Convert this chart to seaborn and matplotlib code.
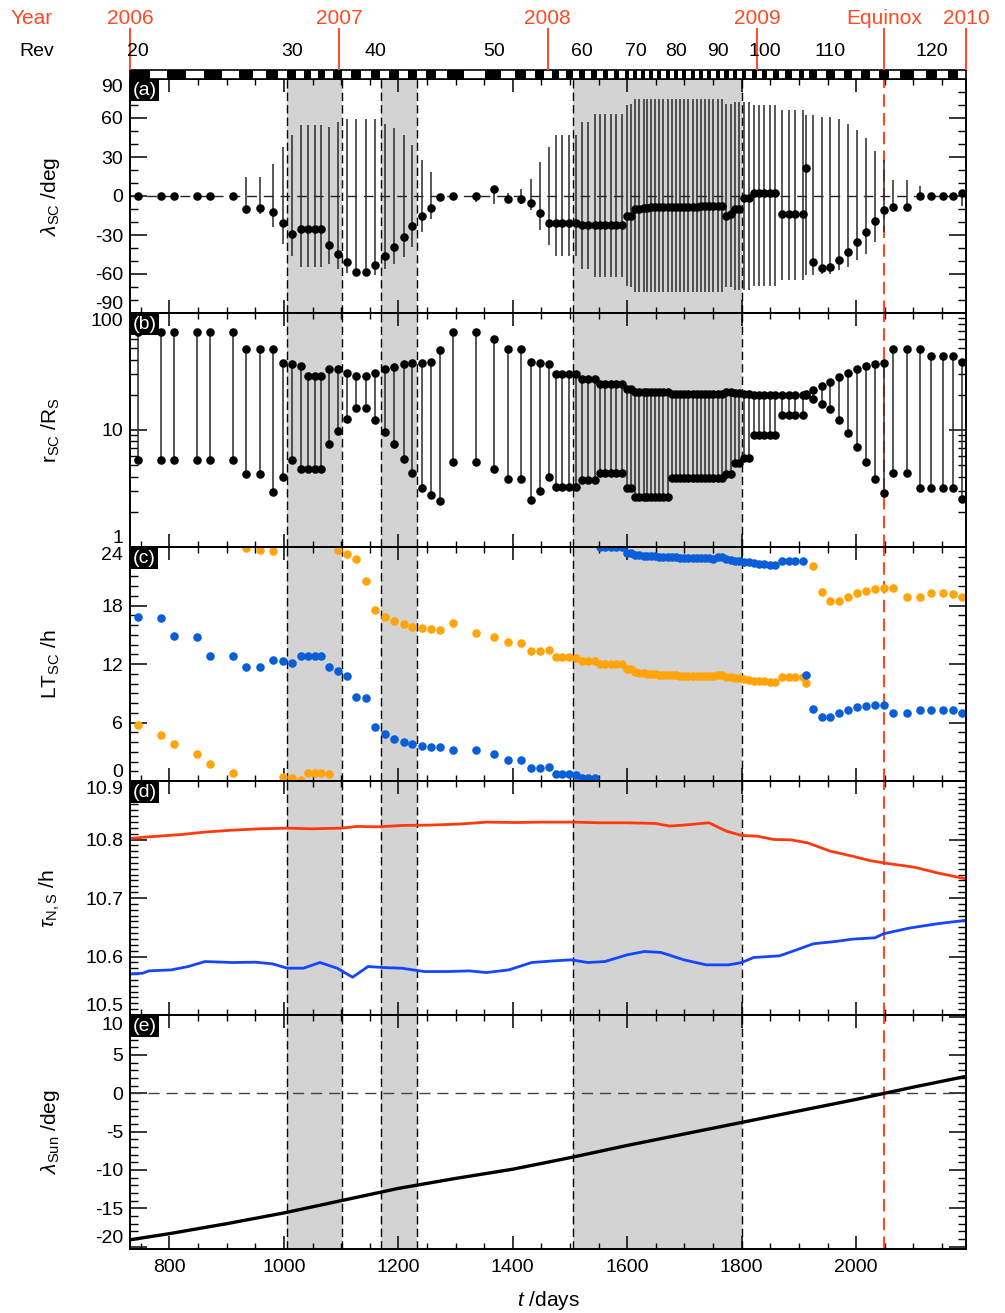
import numpy as np
import pandas as pd
import matplotlib
matplotlib.use("Agg")
import matplotlib.pyplot as plt
import matplotlib.transforms as mtrans
from matplotlib.ticker import MultipleLocator, LogLocator, NullFormatter, FixedLocator
import seaborn as sns

# ---------------- data ----------------
rev_num = list(range(20, 124))
rev_t = [745.5, 785, 808, 848, 871, 911, 933.6, 958, 981, 997.6,
         1014, 1029.6, 1042, 1054, 1065.6, 1078, 1094, 1110, 1126, 1144,
         1160, 1176, 1192.5, 1209, 1224.5, 1241, 1257, 1273, 1295.5, 1335.6,
         1367.7, 1391, 1415, 1431.6, 1447, 1463, 1474.7, 1486.5, 1499, 1510.8,
         1521.3, 1531.2, 1542.8, 1552.7, 1561.5, 1572, 1580.7, 1590.6, 1599.9, 1605.7,
         1614.4, 1621.4, 1628.4, 1634.2, 1641.8, 1648.8, 1656.3, 1663.3, 1670.9, 1677.8,
         1685.4, 1692.4, 1700, 1707, 1714.5, 1721.5, 1729.1, 1736.1, 1743.6, 1750.6,
         1758.2, 1765.1, 1772.7, 1781.4, 1789, 1796, 1803.5, 1812.3, 1822.2, 1830.9,
         1839.6, 1849.5, 1858.8, 1870.5, 1882.1, 1893.7, 1906.5, 1912.4, 1924, 1939.7,
         1954.8, 1970.5, 1985.7, 2001.4, 2017, 2032.8, 2048.6, 2064.8, 2088.8, 2112,
         2131.7, 2151, 2169.6, 2185.8]

lat_sc = [0, 0, 0, 0, 0, 0, -9.7, -9.2, -12.3, -20.8,
          -29.2, -25.6, -25.6, -25.6, -25.6, -37.4, -44.4, -50.8, -58.5, -58.5,
          -53.3, -46.4, -39.2, -31.3, -23.3, -15.1, -9.0, -0.8, 0, 0,
          5.1, -2.6, -2.6, -5.6, -13.0, -21.0, -21.0, -21.0, -21.0, -21.0,
          -22.6, -22.6, -22.6, -22.6, -22.6, -22.6, -22.6, -22.6, -15.4, -15.4,
          -9.7, -9.7, -9.5, -9.3, -8.6, -8.6, -8.5, -8.5, -8.3, -8.3,
          -8.2, -8.2, -8.2, -8.1, -8.1, -8.1, -8.0, -8.0, -8.0, -8.0,
          -7.9, -7.9, -15.4, -14.0, -9.7, -9.7, -1.5, -1.5, 2.6, 2.6,
          2.6, 2.6, 2.6, -13.6, -13.6, -13.6, -13.6, 21.5, -50.5, -55.0,
          -54.4, -49.0, -42.8, -35.4, -27.4, -19.0, -10.5, -8.2, -8.2, 0,
          0, 0, 0, 2.3]

lat_hi = [0, 0, 0, 0, 0, 0, 15, 15, 25, 37.7,
          46.7, 55, 55, 55, 55, 53, 57, 59, 59, 59,
          59, 55.6, 52.5, 46.7, 39, 28, 18.5, 0, 0, 0,
          8, 2, 5.6, 13, 26, 37.7, 46.7, 46.7, 46.7, 46.7,
          57, 57, 63, 63, 63, 63, 63, 63, 70, 71,
          75, 75, 75, 75, 75, 75, 75, 75, 75, 75,
          75, 75, 75, 75, 75, 75, 75, 75, 75, 75,
          75, 75, 71, 71, 72, 72, 72, 72, 70, 70,
          70, 70, 70, 66, 66, 66, 66, 62, 62, 61,
          61, 59, 55.6, 51, 44.6, 35, 28, 12.5, 12.5, 8,
          0, 0, 0, 2.3]

lat_lo = [0, 0, 0, 0, 0, 0, -13.6, -13.6, -24, -37,
          -46, -54.6, -54.6, -54.6, -54.6, -52, -56, -59, -61, -61,
          -61, -56, -52, -47, -39, -28, -18, -1, 0, -4.6,
          -6, -4.5, -6, -11, -26, -37.4, -46, -46, -46, -46,
          -56, -56, -62, -62, -62, -62, -62, -62, -69, -70,
          -74, -74, -74, -74, -74, -74, -74, -74, -74, -74,
          -74, -74, -74, -74, -74, -74, -74, -74, -74, -74,
          -74, -74, -70, -70, -72, -72, -72.5, -72.5, -69, -69,
          -69, -69, -69, -65, -65, -65, -65, -61, -61, -60,
          -60, -57, -54.6, -49.5, -44.4, -35.4, -28, -12.3, -11, 0,
          0, 0, 0, -8]

r_hi = [69, 69, 69, 69, 69, 69, 49, 49, 49, 37.7,
        36.9, 35.2, 29, 29, 29, 33, 33, 30.7, 28.8, 28.8,
        30.7, 33, 34.5, 36.5, 37.4, 37.7, 38.1, 48, 69, 69,
        59.6, 49.6, 49.6, 38, 37.7, 36.5, 30.3, 30.3, 30.3, 30.3,
        27.1, 27.1, 27.1, 24.6, 24.6, 24.6, 24.6, 24.6, 22.6, 22.6,
        21.1, 21.1, 21.1, 21.1, 21.1, 21.1, 21.1, 21.1, 21.1, 20.5,
        20.5, 20.5, 20.5, 20.5, 20.5, 20.5, 20.5, 20.5, 20.5, 20.5,
        20.5, 20.5, 21, 21, 20.7, 20.7, 20.4, 20.4, 19.8, 19.8,
        19.8, 19.8, 19.8, 19.8, 19.8, 19.8, 19.8, 20.4, 21.8, 23.6,
        25.7, 28.4, 30.9, 33.4, 35.2, 36.4, 37.4, 49, 49, 49,
        42.7, 42.7, 42.7, 38.2]

r_lo = [5.5, 5.5, 5.5, 5.5, 5.5, 5.5, 4.18, 4.18, 2.95, 3.96,
        5.5, 4.64, 4.64, 4.64, 4.64, 7.6, 9.8, 12.5, 15.5, 15.5,
        12.1, 9.7, 7.55, 5.7, 4.28, 3.22, 2.77, 2.46, 5.34, 5.34,
        4.68, 3.79, 3.79, 2.54, 3.01, 3.96, 3.26, 3.26, 3.26, 3.26,
        3.72, 3.72, 3.72, 4.3, 4.3, 4.3, 4.3, 4.3, 3.22, 3.22,
        2.67, 2.67, 2.67, 2.67, 2.67, 2.67, 2.67, 2.67, 2.67, 3.92,
        3.92, 3.92, 3.92, 3.92, 3.92, 3.92, 3.92, 3.92, 3.92, 3.92,
        3.92, 3.92, 4.24, 4.24, 5.2, 5.2, 5.75, 5.75, 9.06, 9.06,
        9.06, 9.06, 9.06, 13.5, 13.5, 13.5, 13.5, 19.8, 18.5, 16.8,
        15, 12.1, 9.5, 7.2, 5.3, 3.85, 2.92, 4.27, 4.27, 3.19,
        3.19, 3.19, 3.19, 2.59]

lt_blue = [16.8, 16.7, 14.84, 14.77, 12.85, 12.8, 11.73, 11.67, 12.44, 12.3,
           12.1, 12.85, 12.85, 12.85, 12.8, 11.7, 11.31, 10.8, 8.58, 8.5,
           5.5, 4.82, 4.34, 4.0, 3.76, 3.62, 3.52, 3.52, 3.21, 3.15,
           2.74, 2.15, 2.15, 1.3, 1.3, 1.4, 0.68, 0.68, 0.68, 0.62,
           0.34, 0.34, 0.34, 23.96, 23.96, 23.96, 23.96, 23.96, 23.42, 23.42,
           23.2, 23.15, 23.12, 23.1, 23.07, 23.05, 23.02, 23.0, 22.98, 22.96,
           22.94, 22.92, 22.9, 22.88, 22.87, 22.86, 22.85, 22.84, 22.83, 22.82,
           22.98, 22.95, 22.75, 22.7, 22.6, 22.55, 22.5, 22.45, 22.35, 22.3,
           22.25, 22.2, 22.15, 22.6, 22.6, 22.6, 22.6, 10.87, 7.35, 6.53,
           6.53, 6.94, 7.28, 7.56, 7.7, 7.79, 7.8, 6.94, 6.94, 7.3,
           7.3, 7.3, 7.3, 6.94]

lt_orange = [5.74, 4.75, 3.76, 2.77, 1.78, 0.82, 23.87, 23.7, 23.6, 0.41,
             0.31, 0.14, 0.85, 0.85, 0.82, 0.75, 23.7, 23.3, 22.8, 20.55,
             17.57, 16.85, 16.37, 16.07, 15.83, 15.7, 15.56, 15.53, 16.24, 15.18,
             14.8, 14.22, 14.2, 13.33, 13.33, 13.47, 12.72, 12.72, 12.72, 12.65,
             12.34, 12.34, 12.34, 11.97, 11.97, 11.97, 11.97, 11.97, 11.46, 11.46,
             11.15, 11.1, 11.05, 11.0, 10.98, 10.95, 10.92, 10.9, 10.88, 10.86,
             10.84, 10.82, 10.8, 10.79, 10.78, 10.77, 10.76, 10.75, 10.74, 10.72,
             10.85, 10.85, 10.7, 10.65, 10.58, 10.52, 10.46, 10.4, 10.3, 10.25,
             10.22, 10.2, 10.2, 10.7, 10.7, 10.7, 10.7, 10.1, 22.08, 19.35,
             18.5, 18.5, 18.9, 19.25, 19.52, 19.66, 19.76, 19.8, 18.9, 18.85,
             19.3, 19.3, 19.2, 18.9]

tauN_t = [731, 764, 822, 861, 910, 960, 1006, 1048, 1100, 1127,
          1166, 1206, 1255, 1305, 1354, 1403, 1452, 1505, 1551, 1600,
          1649, 1674, 1699, 1743, 1773, 1800, 1827, 1856, 1886, 1915,
          1955, 1994, 2024, 2048, 2102, 2142, 2190]
tauN = [10.8017, 10.8046, 10.8086, 10.8126, 10.816, 10.8183, 10.8194, 10.8183, 10.8194, 10.8223,
        10.8217, 10.824, 10.8246, 10.8263, 10.8297, 10.829, 10.8297, 10.8297, 10.8286, 10.8286,
        10.8274, 10.823, 10.8246, 10.8286, 10.8143, 10.8069, 10.8057, 10.8, 10.7994, 10.7943,
        10.78, 10.7714, 10.764, 10.76, 10.7526, 10.7429, 10.7331]

tauS_t = [731, 753, 764, 803, 833, 862, 910, 950, 980, 1006,
          1034, 1063, 1093, 1120, 1147, 1176, 1206, 1245, 1285, 1324,
          1354, 1393, 1433, 1472, 1502, 1531, 1561, 1600, 1630, 1659,
          1699, 1738, 1777, 1800, 1821, 1866, 1896, 1925, 1964, 1994,
          2033, 2048, 2093, 2142, 2190]
tauS = [10.5703, 10.5714, 10.5754, 10.5771, 10.5829, 10.5914, 10.5897, 10.5903, 10.5874, 10.58,
        10.58, 10.5897, 10.58, 10.5646, 10.5829, 10.581, 10.58, 10.5743, 10.5743, 10.5754,
        10.5726, 10.5771, 10.5897, 10.5926, 10.5943, 10.5897, 10.5914, 10.6029, 10.6086, 10.6069,
        10.5943, 10.5857, 10.5857, 10.5897, 10.5983, 10.6011, 10.6114, 10.6217, 10.6257, 10.6297,
        10.632, 10.6389, 10.6486, 10.656, 10.6617]

sun_t = [731, 800, 900, 1000, 1100, 1200, 1300, 1400, 1500, 1600,
         1700, 1800, 1900, 2000, 2100, 2192]
sun_lat = [-19.1, -18.3, -17.0, -15.6, -14.0, -12.4, -11.1, -9.9, -8.4, -6.8,
           -5.3, -3.8, -2.3, -0.8, 0.8, 2.2]

shade_start = [1006, 1169, 1505]
shade_end = [1102, 1233, 1800]
equinox_t = 2049
year_t = [731, 1096, 1461, 1827, 2049, 2192]
year_lab = ["2006", "2007", "2008", "2009", "Equinox", "2010"]
rev_label_nums = [20, 30, 40, 50, 60, 70, 80, 90, 100, 110, 120]
x_ticks = [800, 1000, 1200, 1400, 1600, 1800, 2000]
XMIN, XMAX = 731, 2192

panel_tags = ["(a)", "(b)", "(c)", "(d)", "(e)"]
ylabels = [r"$\lambda_{\rm SC}$ /deg", r"r$_{\rm SC}$ /R$_{\rm S}$", r"LT$_{\rm SC}$ /h",
           r"$\tau_{\rm N,S}$ /h", r"$\lambda_{\rm Sun}$ /deg"]

# ---------------- style ----------------
sns.set_theme(style="ticks")
plt.rcParams.update({
    "mathtext.fontset": "custom",
    "mathtext.rm": "Liberation Sans",
    "mathtext.it": "Liberation Sans:italic",
    "mathtext.bf": "Liberation Sans:bold",
    "axes.unicode_minus": False,
    "axes.edgecolor": "black",
    "axes.linewidth": 1.4,
    "xtick.color": "black",
    "ytick.color": "black",
    "text.color": "black",
    "axes.labelcolor": "black",
})
plt.rcParams["font.family"] = ["Liberation Sans", "DejaVu Sans"]

RED = "#ff4a24"
RED_LINE = "#ff3a10"
BLUE_LINE = "#1446ff"
BLUE_DOT = "#0a5fd8"
ORANGE_DOT = "#ffa50a"
GREY_SHADE = "#d3d3d3"
TICK_FS = 14

W_PX, H_PX = 1005, 1313
fig = plt.figure(figsize=(W_PX / 100, H_PX / 100), dpi=100)
fig.patch.set_facecolor("white")


def fx(px):
    return px / W_PX


def fy(py):
    return 1 - py / H_PX


L_PX, R_PX = 130, 966
tops = [79, 313, 547, 781, 1015]
PH = 234
axes = []
for top in tops:
    ax = fig.add_axes([fx(L_PX), fy(top + PH), fx(R_PX - L_PX), PH / H_PX])
    ax.set_facecolor("white")
    axes.append(ax)

# common decorations
for ax in axes:
    for s, e in zip(shade_start, shade_end):
        ax.axvspan(s, e, color=GREY_SHADE, lw=0, zorder=0)
        ax.axvline(s, color="black", lw=1.0, ls=(0, (6, 3)), zorder=1)
        ax.axvline(e, color="black", lw=1.0, ls=(0, (6, 3)), zorder=1)
    ax.axvline(equinox_t, color=RED, lw=1.5, ls=(0, (6, 3)), zorder=1)

# (a) spacecraft latitude
ax = axes[0]
ax.axhline(0, color="#222222", lw=1.0, ls=(0, (7, 5)), zorder=1)
ax.vlines(rev_t, lat_lo, lat_hi, color="#2a2a2a", lw=1.1, zorder=2)
sns.scatterplot(x=rev_t, y=lat_sc, ax=ax, color="black", s=38, linewidth=0,
                zorder=3, legend=False)
ax.set_ylim(-90, 90)
ax.set_yticks([-90, -60, -30, 0, 30, 60, 90])
ax.set_yticklabels(["-90", "-60", "-30", "0", "30", "60", "90"])
ax.yaxis.set_minor_locator(MultipleLocator(10))

# (b) radial distance
ax = axes[1]
ax.vlines(rev_t, r_lo, r_hi, color="#2a2a2a", lw=1.1, zorder=2)
sns.scatterplot(x=rev_t, y=r_hi, ax=ax, color="black", s=38, linewidth=0,
                zorder=3, legend=False)
sns.scatterplot(x=rev_t, y=r_lo, ax=ax, color="black", s=38, linewidth=0,
                zorder=3, legend=False)
ax.set_yscale("log")
ax.set_ylim(1, 100)
ax.yaxis.set_major_locator(FixedLocator([1, 10, 100]))
ax.set_yticklabels(["1", "10", "100"])
ax.yaxis.set_minor_locator(LogLocator(base=10, subs=np.arange(2, 10)))
ax.yaxis.set_minor_formatter(NullFormatter())

# (c) local time
ax = axes[2]
sns.scatterplot(x=rev_t, y=lt_orange, ax=ax, color=ORANGE_DOT, s=38, linewidth=0,
                zorder=3, legend=False)
sns.scatterplot(x=rev_t, y=lt_blue, ax=ax, color=BLUE_DOT, s=38, linewidth=0,
                zorder=3, legend=False)
ax.set_ylim(0, 24)
ax.set_yticks([0, 6, 12, 18, 24])
ax.set_yticklabels(["0", "6", "12", "18", "24"])
ax.yaxis.set_minor_locator(MultipleLocator(1))

# (d) periods
ax = axes[3]
sns.lineplot(x=tauN_t, y=tauN, ax=ax, color=RED_LINE, lw=2.0, zorder=3,
             estimator=None, legend=False)
sns.lineplot(x=tauS_t, y=tauS, ax=ax, color=BLUE_LINE, lw=2.0, zorder=3,
             estimator=None, legend=False)
ax.set_ylim(10.5, 10.9)
ax.set_yticks([10.5, 10.6, 10.7, 10.8, 10.9])
ax.set_yticklabels(["10.5", "10.6", "10.7", "10.8", "10.9"])
ax.yaxis.set_minor_locator(MultipleLocator(0.01))

# (e) solar latitude
ax = axes[4]
ax.axhline(0, color="#444444", lw=1.0, ls=(0, (8, 5)), zorder=1)
sns.lineplot(x=sun_t, y=sun_lat, ax=ax, color="black", lw=2.4, zorder=3,
             estimator=None, legend=False)
ax.set_ylim(-20.3, 10.2)
ax.set_yticks([-20, -15, -10, -5, 0, 5, 10])
ax.set_yticklabels(["-20", "-15", "-10", "-5", "0", "5", "10"])
ax.yaxis.set_minor_locator(MultipleLocator(1))

# axes formatting
for i, ax in enumerate(axes):
    ax.set_xlim(XMIN, XMAX)
    ax.set_xticks(x_ticks)
    ax.xaxis.set_minor_locator(MultipleLocator(50))
    ax.tick_params(axis="x", which="major", direction="in", length=9.2, width=1.1,
                   top=True, bottom=True, labelsize=TICK_FS, pad=7)
    ax.tick_params(axis="x", which="minor", direction="in", length=4.5, width=1.0,
                   top=True, bottom=True)
    ax.tick_params(axis="y", which="major", direction="in", length=12, width=1.1,
                   left=True, right=True, labelsize=TICK_FS, pad=5)
    ax.tick_params(axis="y", which="minor", direction="in", length=6, width=1.0,
                   left=True, right=True)
    if i < 4:
        ax.tick_params(axis="x", labelbottom=False)
        ax.set_xlabel("")
    for sp in ax.spines.values():
        sp.set_visible(True)
        sp.set_linewidth(1.4)
        sp.set_zorder(5)
    ax.set_ylabel(ylabels[i], fontsize=15)
    ax.yaxis.set_label_coords((62 - L_PX) / (R_PX - L_PX), 0.5)
    # IDL-like placement of the end labels
    labs = ax.yaxis.get_major_ticks()
    labs[0].label1.set_va("bottom")
    labs[-1].label1.set_va("top")
    # panel tag
    tr = mtrans.offset_copy(ax.transAxes, fig=fig, x=3, y=-3, units="dots")
    ax.text(0, 1, panel_tags[i], transform=tr, ha="left", va="top", color="white",
            fontsize=14, zorder=10,
            bbox=dict(boxstyle="square,pad=0.12", fc="black", ec="none"))

axes[4].set_xlabel(r"$t$ /days", fontsize=15)
axes[4].xaxis.set_label_coords(0.5, -(1289 - 1249) / PH)

# ---------------- revolution bar ----------------
axbar = fig.add_axes([fx(L_PX), fy(79), fx(R_PX - L_PX), 9 / H_PX])
axbar.set_xlim(XMIN, XMAX)
axbar.set_ylim(0, 1)
edges = [XMIN] + [(a + b) / 2 for a, b in zip(rev_t[:-1], rev_t[1:])] + [XMAX]
for k in range(len(rev_t)):
    axbar.axvspan(edges[k], edges[k + 1], color="black" if k % 2 == 0 else "white", lw=0)
axbar.set_xticks([])
axbar.set_yticks([])
for sp in axbar.spines.values():
    sp.set_linewidth(1.2)
    sp.set_color("black")

# ---------------- year / rev labels ----------------
axtop = fig.add_axes([fx(L_PX), fy(70), fx(R_PX - L_PX), 70 / H_PX])
axtop.set_xlim(XMIN, XMAX)
axtop.set_ylim(0, 70)
axtop.axis("off")
for t, lab in zip(year_t, year_lab):
    axtop.text(t, 70 - 18, lab, color=RED, ha="center", va="center", fontsize=15,
               clip_on=False)
    axtop.vlines(t, 0, 70 - 28, color=RED, lw=1.4, clip_on=False)
for rn in rev_label_nums:
    t = rev_t[rev_num.index(rn)]
    axtop.text(t, 70 - 52, str(rn), color="black", ha="center", va="center",
               fontsize=14, clip_on=False)
fig.text(fx(32), fy(18), "Year", color=RED, ha="center", va="center", fontsize=15)
fig.text(fx(37), fy(52), "Rev", color="black", ha="center", va="center", fontsize=14)

fig.savefig("out.png", dpi=100, facecolor="white")
